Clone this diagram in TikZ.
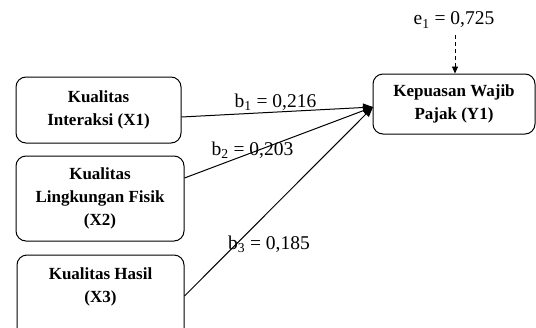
\documentclass[tikz,border=0pt]{standalone}
\usepackage{fontspec}
\setmainfont{Liberation Serif}
\usetikzlibrary{arrows.meta}
\tikzset{
  box/.style={draw, rounded corners=10pt, line width=1pt, align=center, inner sep=0pt,
    font=\fontsize{17}{23}\selectfont\bfseries},
  boxtext/.style={align=center, inner sep=0pt, font=\fontsize{17}{23}\selectfont\bfseries},
  coef/.style={inner sep=0pt, font=\fontsize{19.5}{22}\selectfont},
  pathline/.style={line width=1pt, -{Triangle[length=10pt,width=8pt]}},
  errline/.style={line width=0.9pt, dash pattern=on 4pt off 3pt, -{Triangle[length=7pt,width=6pt]}},
}
\begin{document}
\begin{tikzpicture}[x=1pt,y=-1pt]
\useasboundingbox (0,0) rectangle (536,327);
\clip (0,0) rectangle (536,327);
\node[box, minimum width=165pt, minimum height=66pt] (x1) at (98.5,110) {Kualitas\\Interaksi (X1)};
\node[box, minimum width=168pt, minimum height=85pt] (x2) at (100,198.5) {Kualitas\\Lingkungan Fisik\\(X2)};
\node[box, minimum width=167pt, minimum height=90pt] (x3) at (100.5,300) {};
\node[boxtext] (x3t) at (100.5,286.5) {Kualitas Hasil\\(X3)};
\node[box, minimum width=162pt, minimum height=60pt] (y1) at (454,104) {Kepuasan Wajib\\Pajak (Y1)};
\coordinate (tip) at (373,107);
\coordinate (etop) at (455,35);
\node[coef] (e1) at (454,20) {e\textsubscript{1} = 0,725};
\draw[pathline] ([yshift=-7pt]x1.east) -- (tip);
\draw[pathline] ([yshift=20.5pt]x2.east) -- (tip);
\draw[pathline] ([yshift=4pt]x3.east) -- (tip);
\draw[errline] (etop) -- (etop |- y1.north);
\node[coef] (b1) at (275.5,102.5) {b\textsubscript{1} = 0,216};
\node[coef] (b2) at (252.5,150) {b\textsubscript{2} = 0,203};
\node[coef] (b3) at (269,244) {b\textsubscript{3} = 0,185};
\end{tikzpicture}
\end{document}
